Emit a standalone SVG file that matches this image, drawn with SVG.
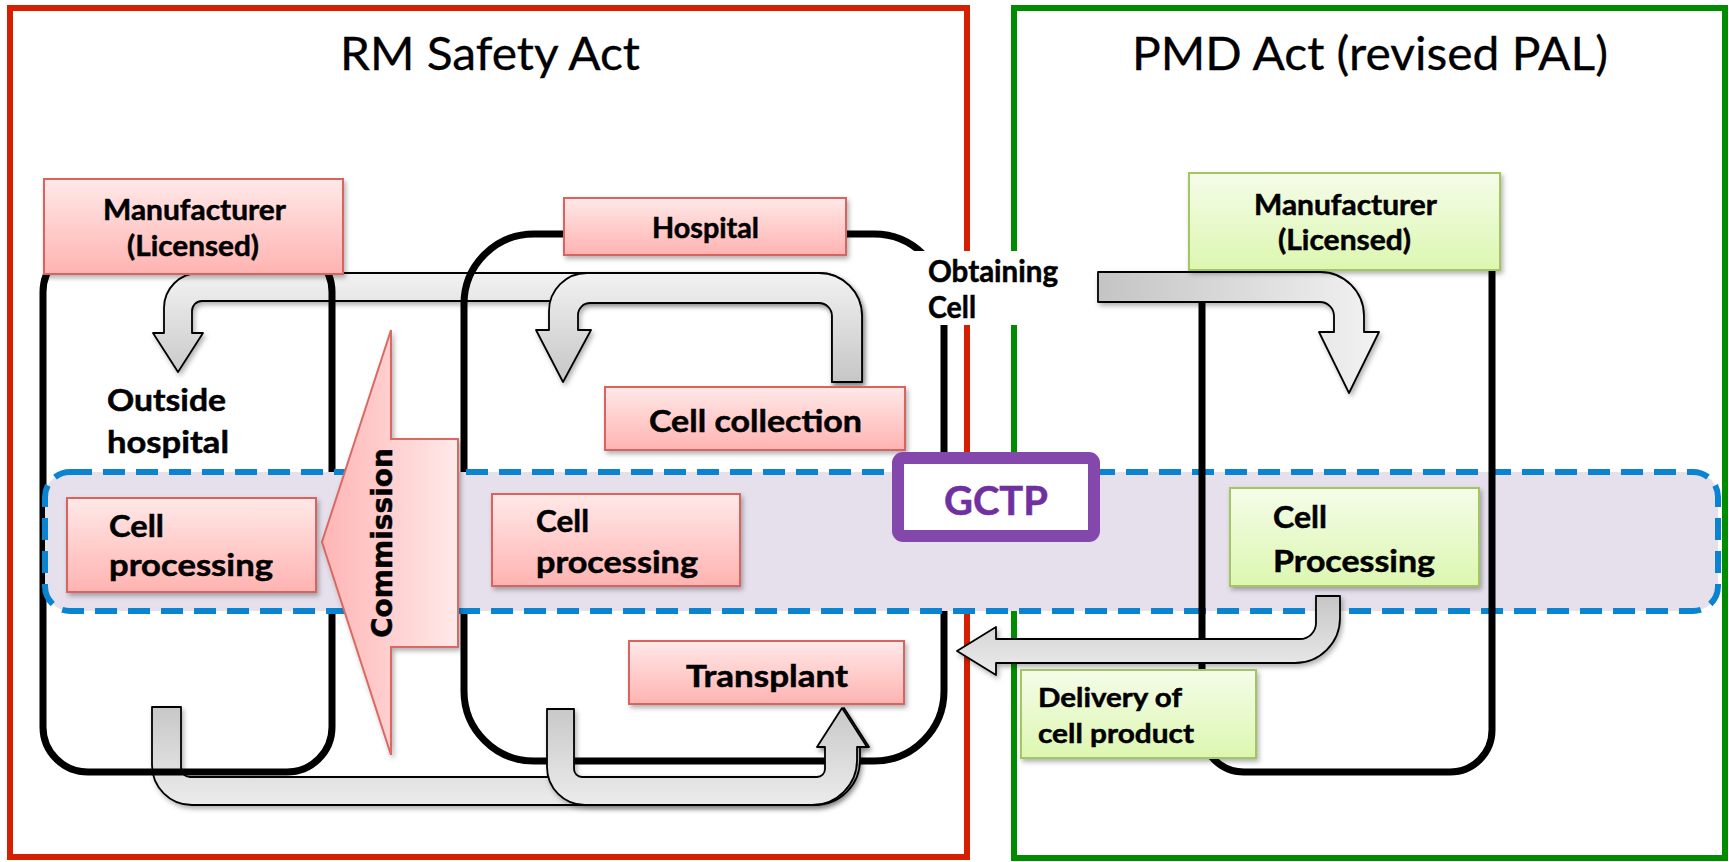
<svg xmlns="http://www.w3.org/2000/svg" width="1729" height="862" viewBox="0 0 1729 862">
<defs>
<linearGradient id="gPink" x1="0" y1="0" x2="0" y2="1"><stop offset="0" stop-color="#ffe9e8"/><stop offset="1" stop-color="#ffb3b1"/></linearGradient>
<linearGradient id="gGreen" x1="0" y1="0" x2="0" y2="1"><stop offset="0" stop-color="#f5fce9"/><stop offset="1" stop-color="#dcf7b0"/></linearGradient>
<linearGradient id="gComm" x1="322" y1="0" x2="458" y2="0" gradientUnits="userSpaceOnUse"><stop offset="0" stop-color="#ffb5b5"/><stop offset="1" stop-color="#ffe9e9"/></linearGradient>
<linearGradient id="gAB" x1="0" y1="273" x2="0" y2="382" gradientUnits="userSpaceOnUse"><stop offset="0" stop-color="#f2f2f2"/><stop offset="1" stop-color="#c6c6c6"/></linearGradient>
<linearGradient id="gC" x1="1098" y1="0" x2="1380" y2="0" gradientUnits="userSpaceOnUse"><stop offset="0" stop-color="#c4c4c4"/><stop offset="1" stop-color="#f2f2f2"/></linearGradient>
<linearGradient id="gD" x1="0" y1="596" x2="0" y2="675" gradientUnits="userSpaceOnUse"><stop offset="0" stop-color="#c6c6c6"/><stop offset="1" stop-color="#ececec"/></linearGradient>
<linearGradient id="gEF" x1="0" y1="707" x2="0" y2="806" gradientUnits="userSpaceOnUse"><stop offset="0" stop-color="#c8c8c8"/><stop offset="1" stop-color="#ececec"/></linearGradient>
<filter id="sh" x="-10%" y="-10%" width="130%" height="140%"><feDropShadow dx="2" dy="3" stdDeviation="2.5" flood-color="#000" flood-opacity="0.3"/></filter>
</defs>
<style>
.frame{fill:none;stroke-width:6}
.lane{fill:none;stroke:#000;stroke-width:7}
.arr{stroke:#000;stroke-width:1.8;stroke-linejoin:round;filter:url(#sh)}
.pink{fill:url(#gPink);stroke:#d9645f;stroke-width:2;filter:url(#sh)}
.green{fill:url(#gGreen);stroke:#a3c562;stroke-width:2;filter:url(#sh)}
text{font-family:Lato,"Liberation Sans",sans-serif;font-weight:700;fill:#000;stroke:#000;stroke-width:0.5}
.title{font-weight:400;font-size:46px;stroke-width:0.3}
.s29{font-size:29px}
.s31{font-size:31px}
.s30{font-size:30px}
.s27{font-size:27px}
</style>

<g id="frames">
<rect id="rm-frame" class="frame" x="10" y="8" width="957" height="849" stroke="#d42000"/>
<rect id="pmd-frame" class="frame" x="1014" y="8" width="711" height="850" stroke="#008c00"/>
<text class="title" x="340" y="70" textLength="300" lengthAdjust="spacingAndGlyphs">RM Safety Act</text>
<text class="title" x="1132" y="70" textLength="476" lengthAdjust="spacingAndGlyphs">PMD Act (revised PAL)</text>
</g>

<g id="connectors-upper">
<path id="arrow-to-outside" class="arr" fill="url(#gAB)" d="M 832 382 L 832 314 A 13 13 0 0 0 819 301 L 202 301 A 10 10 0 0 0 192 311 L 192 333 L 203 333 L 178 372 L 153 333 L 164 333 L 164 308 A 35 35 0 0 1 199 273 L 819 273 A 43 43 0 0 1 862 316 L 862 382 Z"/>
<path id="arrow-to-hospital" class="arr" fill="url(#gAB)" d="M 832 382 L 832 316 A 13 13 0 0 0 819 303 L 590 303 A 12 12 0 0 0 578 315 L 578 330 L 591 330 L 563 382 L 536 330 L 549 330 L 549 311 A 38 38 0 0 1 587 273 L 819 273 A 43 43 0 0 1 862 316 L 862 382 Z"/>
</g>

<g id="hospital-lane"><rect class="lane" x="464" y="234" width="480" height="527" rx="70"/></g>

<g id="connectors-lower">
<path id="arrow-outside-transplant" class="arr" fill="url(#gEF)" d="M 152 707 L 181 707 L 181 768 A 9 9 0 0 0 190 777 L 820 777 A 8 8 0 0 0 828 769 L 828 747 L 819 747 L 844 708 L 869 747 L 860 747 L 860 760 A 45 45 0 0 1 815 805 L 192 805 A 40 40 0 0 1 152 765 Z"/>
<path id="arrow-hospital-transplant" class="arr" fill="url(#gEF)" d="M 547 709 L 574 709 L 574 769 A 8 8 0 0 0 582 777 L 817 777 A 8 8 0 0 0 825 769 L 825 747 L 817 747 L 842 708 L 867 747 L 857 747 L 857 760 A 45 45 0 0 1 812 805 L 585 805 A 38 38 0 0 1 547 767 Z"/>
</g>

<g id="outside-lane"><rect class="lane" x="43" y="247" width="289" height="525" rx="45"/></g>

<g id="gctp-zone"><rect x="45" y="472" width="1673" height="139" rx="25" fill="#e6e0ec" stroke="#0a84d0" stroke-width="6" stroke-dasharray="22 11"/></g>

<g id="pmd-lane"><rect class="lane" x="1202" y="225" width="290" height="547" rx="42"/></g>

<g id="connectors-pmd">
<path id="arrow-obtaining" class="arr" fill="url(#gC)" d="M 1098 272 L 1320 272 A 44 44 0 0 1 1364 316 L 1364 332 L 1379 332 L 1349 393 L 1319 332 L 1334 332 L 1334 316 A 14 14 0 0 0 1320 302 L 1098 302 Z"/>
<path id="arrow-delivery" class="arr" fill="url(#gD)" d="M 1316 596 L 1340 596 L 1340 618 A 45 45 0 0 1 1295 663 L 996 663 L 996 675 L 957 651 L 996 627 L 996 639 L 1300 639 A 16 16 0 0 0 1316 623 Z"/>
</g>

<g id="commission">
<path fill="url(#gComm)" stroke="#d96a64" stroke-width="2" filter="url(#sh)" d="M 458 439 L 391 439 L 391 330 L 322 542 L 391 755 L 391 647 L 458 647 Z"/>
<text transform="translate(392,638) rotate(-90)" style="font-family:'DejaVu Sans','Liberation Sans',sans-serif;font-size:29px" textLength="190" lengthAdjust="spacingAndGlyphs">Commission</text>
</g>

<g id="manufacturer-rm">
<rect class="pink" x="44" y="179" width="299" height="95"/>
<text class="s29" x="103" y="220" textLength="183" lengthAdjust="spacingAndGlyphs">Manufacturer</text>
<text class="s29" x="127" y="256" textLength="132" lengthAdjust="spacingAndGlyphs">(Licensed)</text>
</g>

<g id="hospital">
<rect class="pink" x="564" y="198" width="282" height="57"/>
<text class="s29" x="652" y="238" textLength="107" lengthAdjust="spacingAndGlyphs">Hospital</text>
</g>

<g id="outside-hospital">
<text class="s31" x="107" y="411" textLength="119" lengthAdjust="spacingAndGlyphs">Outside</text>
<text class="s31" x="107" y="453" textLength="122" lengthAdjust="spacingAndGlyphs">hospital</text>
</g>

<g id="cell-collection">
<rect class="pink" x="605" y="387" width="300" height="63"/>
<text class="s31" x="649" y="432" textLength="213" lengthAdjust="spacingAndGlyphs">Cell collection</text>
</g>

<g id="cell-processing-outside">
<rect class="pink" x="67" y="498" width="249" height="94"/>
<text class="s31" x="109" y="537" textLength="55" lengthAdjust="spacingAndGlyphs">Cell</text>
<text class="s31" x="109" y="576" textLength="164" lengthAdjust="spacingAndGlyphs">processing</text>
</g>

<g id="cell-processing-hospital">
<rect class="pink" x="492" y="494" width="248" height="92"/>
<text class="s31" x="536" y="532" textLength="53" lengthAdjust="spacingAndGlyphs">Cell</text>
<text class="s31" x="536" y="573" textLength="162" lengthAdjust="spacingAndGlyphs">processing</text>
</g>

<g id="transplant">
<rect class="pink" x="629" y="641" width="275" height="63"/>
<text class="s30" x="686" y="687" textLength="162" lengthAdjust="spacingAndGlyphs">Transplant</text>
</g>

<g id="manufacturer-pmd">
<rect class="green" x="1189" y="173" width="311" height="97"/>
<text class="s29" x="1254" y="215" textLength="183" lengthAdjust="spacingAndGlyphs">Manufacturer</text>
<text class="s29" x="1278" y="250" textLength="133" lengthAdjust="spacingAndGlyphs">(Licensed)</text>
</g>

<g id="cell-processing-pmd">
<rect class="green" x="1230" y="488" width="249" height="98"/>
<text class="s31" x="1273" y="528" textLength="54" lengthAdjust="spacingAndGlyphs">Cell</text>
<text class="s31" x="1273" y="572" textLength="162" lengthAdjust="spacingAndGlyphs">Processing</text>
</g>

<g id="delivery">
<rect class="green" x="1021" y="670" width="235" height="88"/>
<text class="s27" x="1038" y="707" textLength="144" lengthAdjust="spacingAndGlyphs">Delivery of</text>
<text class="s27" x="1038" y="743" textLength="156" lengthAdjust="spacingAndGlyphs">cell product</text>
</g>

<g id="gctp">
<rect x="898" y="458" width="196" height="78" rx="5" fill="#fff" stroke="#8447ac" stroke-width="12"/>
<text x="944" y="515" style="font-size:40px;fill:#7030a0;stroke:#7030a0" textLength="104" lengthAdjust="spacingAndGlyphs">GCTP</text>
</g>

<g id="obtaining-cell">
<rect x="912" y="251" width="163" height="74" fill="#fff"/>
<text class="s30" x="928" y="282" textLength="130" lengthAdjust="spacingAndGlyphs">Obtaining</text>
<text class="s30" x="928" y="318" textLength="48" lengthAdjust="spacingAndGlyphs">Cell</text>
</g>
</svg>
